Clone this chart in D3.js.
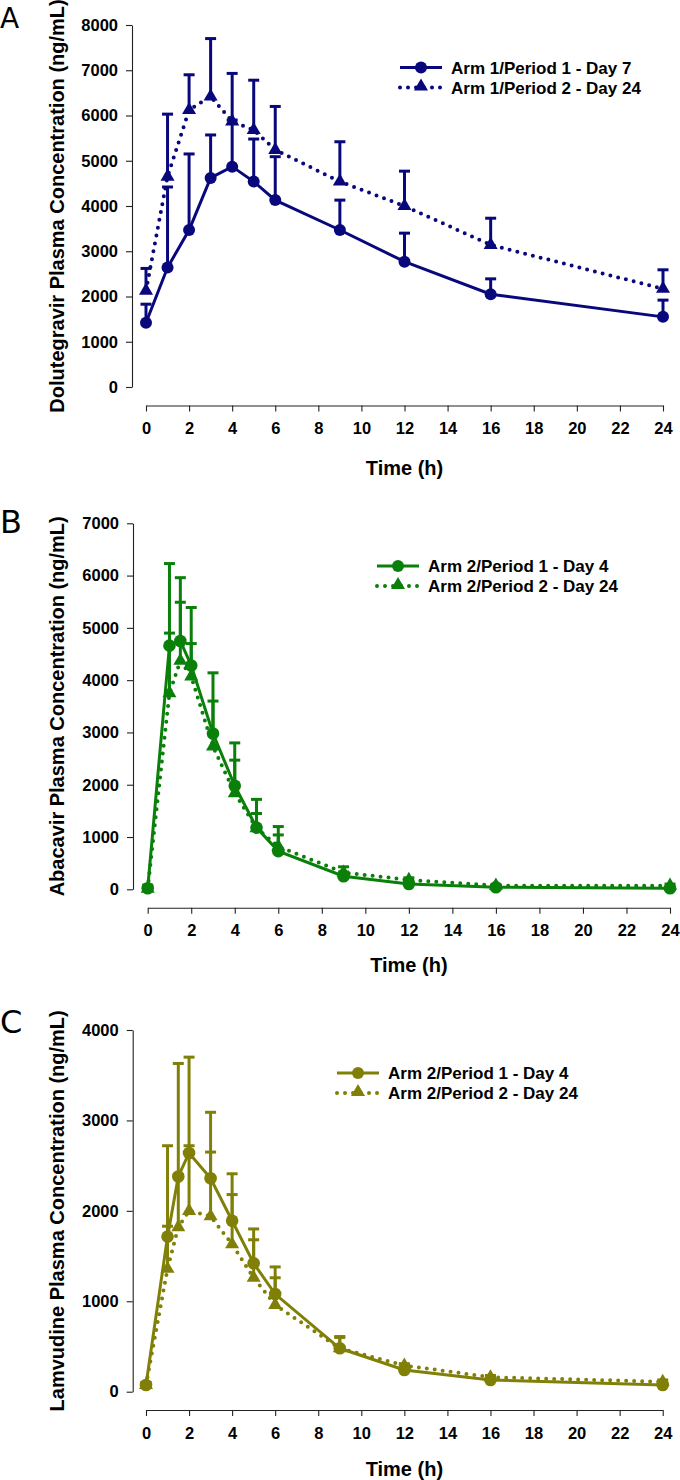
<!DOCTYPE html>
<html><head><meta charset="utf-8">
<script src="https://cdn.jsdelivr.net/npm/d3@7"></script>
<style>
html,body{margin:0;padding:0;background:#fff;}
svg{display:block;font-family:"Liberation Sans",Arial,sans-serif;}
</style></head>
<body><svg id="c" width="680" height="1480"></svg>
<script>
// ---- Data ----
const timesA = [0, 1, 2, 3, 4, 5, 6, 9, 12, 16, 24];
const timesBC = [0, 1, 1.5, 2, 3, 4, 5, 6, 9, 12, 16, 24];

const dtgP1 = [1420, 2640, 3470, 4620, 4870, 4540, 4130, 3470, 2770, 2050, 1550];
const dtgP1Upper = [1830, 4420, 5150, 5570, 5900, 5480, 5090, 4130, 3400, 2390, 1920];
const dtgP2 = [2130, 4650, 6120, 6420, 5870, 5680, 5240, 4540, 4000, 3140, 2170];
const dtgP2Upper = [2620, 6030, 6900, 7700, 6930, 6780, 6200, 5420, 4770, 3730, 2590];

const abcP1 = [20, 4660, 4750, 4280, 2980, 1980, 1180, 730, 250, 100, 40, 20];
const abcP1Upper = [80, 6230, 5960, 5390, 4140, 2800, 1720, 1200, 330, 150, 60, 40];
const abcP2 = [10, 3750, 4370, 4070, 2730, 1840, 1170, 820, 320, 180, 70, 70];
const abcP2Upper = [40, 4900, 5490, 4700, 3600, 2470, 1450, 1040, 430, 220, 90, 100];

const ltcP1 = [74, 1715, 2380, 2640, 2360, 1890, 1420, 1080, 480, 240, 130, 74];
const ltcP1Upper = [100, 2720, 3630, 3700, 3090, 2410, 1800, 1380, 610, 300, 160, 100];
const ltcP2 = [74, 1360, 1820, 2000, 1940, 1630, 1260, 960, 480, 290, 160, 110];
const ltcP2Upper = [100, 1830, 2400, 2720, 2650, 2180, 1680, 1260, 600, 310, 180, 130];

const xTicks = [0, 2, 4, 6, 8, 10, 12, 14, 16, 18, 20, 22, 24];
const yTicksA = [0, 1000, 2000, 3000, 4000, 5000, 6000, 7000, 8000];
const yTicksB = [0, 1000, 2000, 3000, 4000, 5000, 6000, 7000];
const yTicksC = [0, 1000, 2000, 3000, 4000];

const panelLetters = ["A", "B", "C"];
const yTitles = ["Dolutegravir Plasma Concentration (ng/mL)", "Abacavir Plasma Concentration (ng/mL)", "Lamvudine Plasma Concentration (ng/mL)"];
const xTitle = "Time (h)";
const legendA = ["Arm 1/Period 1 - Day 7", "Arm 1/Period 2 - Day 24"];
const legendBC = ["Arm 2/Period 1 - Day 4", "Arm 2/Period 2 - Day 24"];

// ---- Layout ----
const panels = [
  {letter: panelLetters[0], letterY: 28, letterSize: 28, times: timesA, s1: dtgP1, u1: dtgP1Upper, s2: dtgP2, u2: dtgP2Upper,
   yTicks: yTicksA, ymax: 8000, color: "#08087c", axisX: 132, x0: 146, x1: 663, yTop: 25, yBot: 387, xAxisY: 405.5,
   xTitleY: 475, title: yTitles[0], legend: legendA, legX: 400, legY: 67.5, r: 6},
  {letter: panelLetters[1], letterY: 533, letterSize: 32, times: timesBC, s1: abcP1, u1: abcP1Upper, s2: abcP2, u2: abcP2Upper,
   yTicks: yTicksB, ymax: 7000, color: "#0a800a", axisX: 133, x0: 147.7, x1: 670, yTop: 523.3, yBot: 889.3, xAxisY: 907.7,
   xTitleY: 972, title: yTitles[1], legend: legendBC, legX: 377, legY: 566, r: 6.3},
  {letter: panelLetters[2], letterY: 1033, letterSize: 32, times: timesBC, s1: ltcP1, u1: ltcP1Upper, s2: ltcP2, u2: ltcP2Upper,
   yTicks: yTicksC, ymax: 4000, color: "#808008", axisX: 132.7, x0: 146, x1: 662.7, yTop: 1030, yBot: 1391.7, xAxisY: 1410,
   xTitleY: 1476, title: yTitles[2], legend: legendBC, legX: 337, legY: 1073, r: 6.3}
];

const svg = d3.select("#c");
const triangle = d3.symbol().type(d3.symbolTriangle).size(85);

panels.forEach(p => {
  const g = svg.append("g");
  const x = d3.scaleLinear().domain([0, 24]).range([p.x0, p.x1]);
  const y = d3.scaleLinear().domain([0, p.ymax]).range([p.yBot, p.yTop]);

  // panel letter
  g.append("text").attr("x", 0).attr("y", p.letterY)
    .attr("font-family", "'DejaVu Sans', sans-serif")
    .attr("font-size", p.letterSize).attr("fill", "#000").text(p.letter);

  // y axis
  const ya = g.append("g").attr("transform", `translate(${p.axisX},0)`)
    .call(d3.axisLeft(y).tickValues(p.yTicks).tickFormat(d3.format("d")).tickSize(6).tickSizeOuter(0).tickPadding(8));
  // x axis
  const xa = g.append("g").attr("transform", `translate(0,${p.xAxisY})`)
    .call(d3.axisBottom(x).tickValues(xTicks).tickFormat(d3.format("d")).tickSize(6).tickSizeOuter(0).tickPadding(11));
  [ya, xa].forEach(a => {
    a.select(".domain").attr("stroke", "#222").attr("stroke-width", 1.1);
    a.selectAll(".tick line").attr("stroke", "#222").attr("stroke-width", 1.1);
    a.selectAll(".tick text").attr("font-family", "'Liberation Sans', Arial, sans-serif")
      .attr("font-weight", "bold").attr("font-size", 16.5).attr("fill", "#000");
  });

  // titles
  g.append("text").attr("x", (p.x0 + p.x1) / 2).attr("y", p.xTitleY)
    .attr("text-anchor", "middle").attr("font-weight", "bold").attr("font-size", 20).attr("fill", "#000")
    .text(xTitle);
  g.append("text")
    .attr("transform", `translate(64,${(p.yTop + p.yBot) / 2}) rotate(-90)`)
    .attr("text-anchor", "middle").attr("font-weight", "bold").attr("font-size", 20).attr("fill", "#000")
    .text(p.title);

  const d1 = p.times.map((t, i) => ({t, v: p.s1[i], u: p.u1[i]}));
  const d2 = p.times.map((t, i) => ({t, v: p.s2[i], u: p.u2[i]}));
  const line = d3.line().x(d => x(d.t)).y(d => y(d.v));

  // lines
  g.append("path").datum(d2).attr("d", line).attr("fill", "none").attr("stroke", p.color)
    .attr("stroke-width", 4).attr("stroke-dasharray", "0,8").attr("stroke-linecap", "round");
  g.append("path").datum(d1).attr("d", line).attr("fill", "none").attr("stroke", p.color)
    .attr("stroke-width", 3);

  // error bars (upper only)
  [d2, d1].forEach(d => {
    const eb = g.append("g");
    eb.selectAll("line.v").data(d).join("line")
      .attr("x1", e => x(e.t)).attr("x2", e => x(e.t))
      .attr("y1", e => y(e.v)).attr("y2", e => y(e.u))
      .attr("stroke", p.color).attr("stroke-width", 3);
    eb.selectAll("line.c").data(d).join("line")
      .attr("x1", e => x(e.t) - 5.5).attr("x2", e => x(e.t) + 5.5)
      .attr("y1", e => y(e.u)).attr("y2", e => y(e.u))
      .attr("stroke", p.color).attr("stroke-width", 3);
  });

  // markers
  g.selectAll("path.tri").data(d2).join("path")
    .attr("transform", e => `translate(${x(e.t)},${y(e.v)})`)
    .attr("d", triangle).attr("fill", p.color);
  g.selectAll("circle.pt").data(d1).join("circle")
    .attr("cx", e => x(e.t)).attr("cy", e => y(e.v)).attr("r", p.r).attr("fill", p.color);

  // legend
  const lg = g.append("g");
  lg.append("line").attr("x1", p.legX).attr("x2", p.legX + 42).attr("y1", p.legY).attr("y2", p.legY)
    .attr("stroke", p.color).attr("stroke-width", 3);
  lg.append("circle").attr("cx", p.legX + 21).attr("cy", p.legY).attr("r", 6).attr("fill", p.color);
  lg.append("line").attr("x1", p.legX).attr("x2", p.legX + 42).attr("y1", p.legY + 20).attr("y2", p.legY + 20)
    .attr("stroke", p.color).attr("stroke-width", 4).attr("stroke-dasharray", "0,8").attr("stroke-linecap", "round");
  lg.append("path").attr("transform", `translate(${p.legX + 21},${p.legY + 19})`).attr("d", triangle).attr("fill", p.color);
  p.legend.forEach((t, i) => {
    lg.append("text").attr("x", p.legX + 51).attr("y", p.legY + 6 + i * 20)
      .attr("font-weight", "bold").attr("font-size", 17).attr("fill", "#000").text(t);
  });
});
</script></body></html>
